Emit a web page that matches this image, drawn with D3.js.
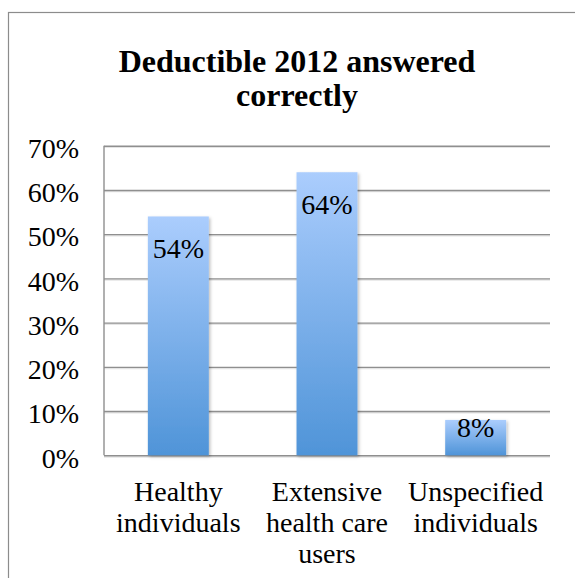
<!DOCTYPE html>
<html>
<head>
<meta charset="utf-8">
<script src="https://cdn.jsdelivr.net/npm/d3@7"></script>
<style>
  body { margin: 0; background: #fff; }
  svg { display: block; }
  text { font-family: "Liberation Serif", "DejaVu Serif", serif; fill: #000; }
</style>
</head>
<body>
<svg id="chart" width="575" height="578"></svg>
<script>
// data
let categories = ['Healthy individuals', 'Extensive health care users', 'Unspecified individuals'];
let categoryLines = [['Healthy', 'individuals'], ['Extensive', 'health care', 'users'], ['Unspecified', 'individuals']];
let values = [0.54, 0.64, 0.08];
let valueLabels = ['54%', '64%', '8%'];
let yTicks = [0, 0.1, 0.2, 0.3, 0.4, 0.5, 0.6, 0.7];
let titleLines = ['Deductible 2012 answered', 'correctly'];

let plot = { left: 104, right: 550, top: 145.7, bottom: 455.3 };

let svg = d3.select('#chart');

// outer frame (cropped at right and bottom)
svg.append('rect')
	.attr('x', 8.5).attr('y', 12.5)
	.attr('width', 620).attr('height', 620)
	.attr('fill', 'none')
	.attr('stroke', '#8c8c8c')
	.attr('stroke-width', 1.2);

// title
svg.append('text')
	.attr('text-anchor', 'middle')
	.attr('font-weight', 'bold')
	.attr('font-size', 32)
	.selectAll('tspan')
	.data(titleLines)
	.enter().append('tspan')
		.attr('x', 297)
		.attr('y', function(d, i) { return 72 + i * 34; })
		.text(function(d) { return d; });

let x = d3.scaleBand()
	.domain(categories)
	.range([plot.left, plot.right])
	.paddingInner(0.59)
	.paddingOuter(0.295);

let y = d3.scaleLinear()
	.domain([0, 0.7])
	.range([plot.bottom, plot.top]);

let defs = svg.append('defs');
let grad = defs.append('linearGradient')
	.attr('id', 'barGrad')
	.attr('x1', 0).attr('y1', 0).attr('x2', 0).attr('y2', 1);
grad.append('stop').attr('offset', '0%').attr('stop-color', '#abcdfd');
grad.append('stop').attr('offset', '100%').attr('stop-color', '#4f94d8');

let shadow = defs.append('filter').attr('id', 'shadow')
	.attr('x', '-20%').attr('y', '-5%').attr('width', '140%').attr('height', '115%');
shadow.append('feDropShadow')
	.attr('dx', 1.5).attr('dy', 1.5).attr('stdDeviation', 1.5)
	.attr('flood-color', '#000').attr('flood-opacity', 0.25);

// gridline shadows
svg.append('g')
	.selectAll('line')
	.data(yTicks)
	.enter().append('line')
		.attr('x1', plot.left).attr('x2', plot.right)
		.attr('y1', function(d) { return y(d) + 1.6; })
		.attr('y2', function(d) { return y(d) + 1.6; })
		.attr('stroke', '#e4e4e4')
		.attr('stroke-width', 1.5);

// gridlines
let grid = svg.append('g')
	.attr('transform', 'translate(' + plot.left + ',0)')
	.call(d3.axisLeft(y).tickValues(yTicks).tickSize(-(plot.right - plot.left)).tickFormat(''));
grid.select('.domain').remove();
grid.selectAll('.tick line')
	.attr('stroke', '#8f8f8f')
	.attr('stroke-width', 1.4);

// y axis line
svg.append('line')
	.attr('x1', plot.left).attr('x2', plot.left)
	.attr('y1', y(0.7)).attr('y2', y(0))
	.attr('stroke', '#8f8f8f')
	.attr('stroke-width', 1.4);

// y tick labels
svg.append('g')
	.selectAll('text')
	.data(yTicks)
	.enter().append('text')
		.attr('x', 79)
		.attr('y', function(d) { return y(d); })
		.attr('dy', '0.44em')
		.attr('text-anchor', 'end')
		.attr('font-size', 28)
		.text(d3.format('.0%'));

// bars
let bar = svg.append('g')
	.selectAll('g')
	.data(values)
	.enter().append('g');

bar.append('rect')
	.attr('x', function(d, i) { return x(categories[i]); })
	.attr('y', function(d) { return y(d); })
	.attr('width', x.bandwidth())
	.attr('height', function(d) { return y(0) - y(d); })
	.attr('fill', 'url(#barGrad)')
	.attr('filter', 'url(#shadow)');

bar.append('text')
	.attr('x', function(d, i) { return x(categories[i]) + x.bandwidth() / 2; })
	.attr('y', function(d) {
		let h = y(0) - y(d);
		return h > 60 ? y(d) + 42 : y(d) + 17;
	})
	.attr('text-anchor', 'middle')
	.attr('font-size', 28)
	.text(function(d, i) { return valueLabels[i]; });

// category labels
let cat = svg.append('g')
	.selectAll('text')
	.data(categoryLines)
	.enter().append('text')
		.attr('text-anchor', 'middle')
		.attr('font-size', 28);

cat.selectAll('tspan')
	.data(function(d, i) { return d.map(function(line) { return { line: line, i: i }; }); })
	.enter().append('tspan')
		.attr('x', function(d) { return x(categories[d.i]) + x.bandwidth() / 2; })
		.attr('y', function(d, j) { return 501 + j * 31; })
		.text(function(d) { return d.line; });
</script>
</body>
</html>
